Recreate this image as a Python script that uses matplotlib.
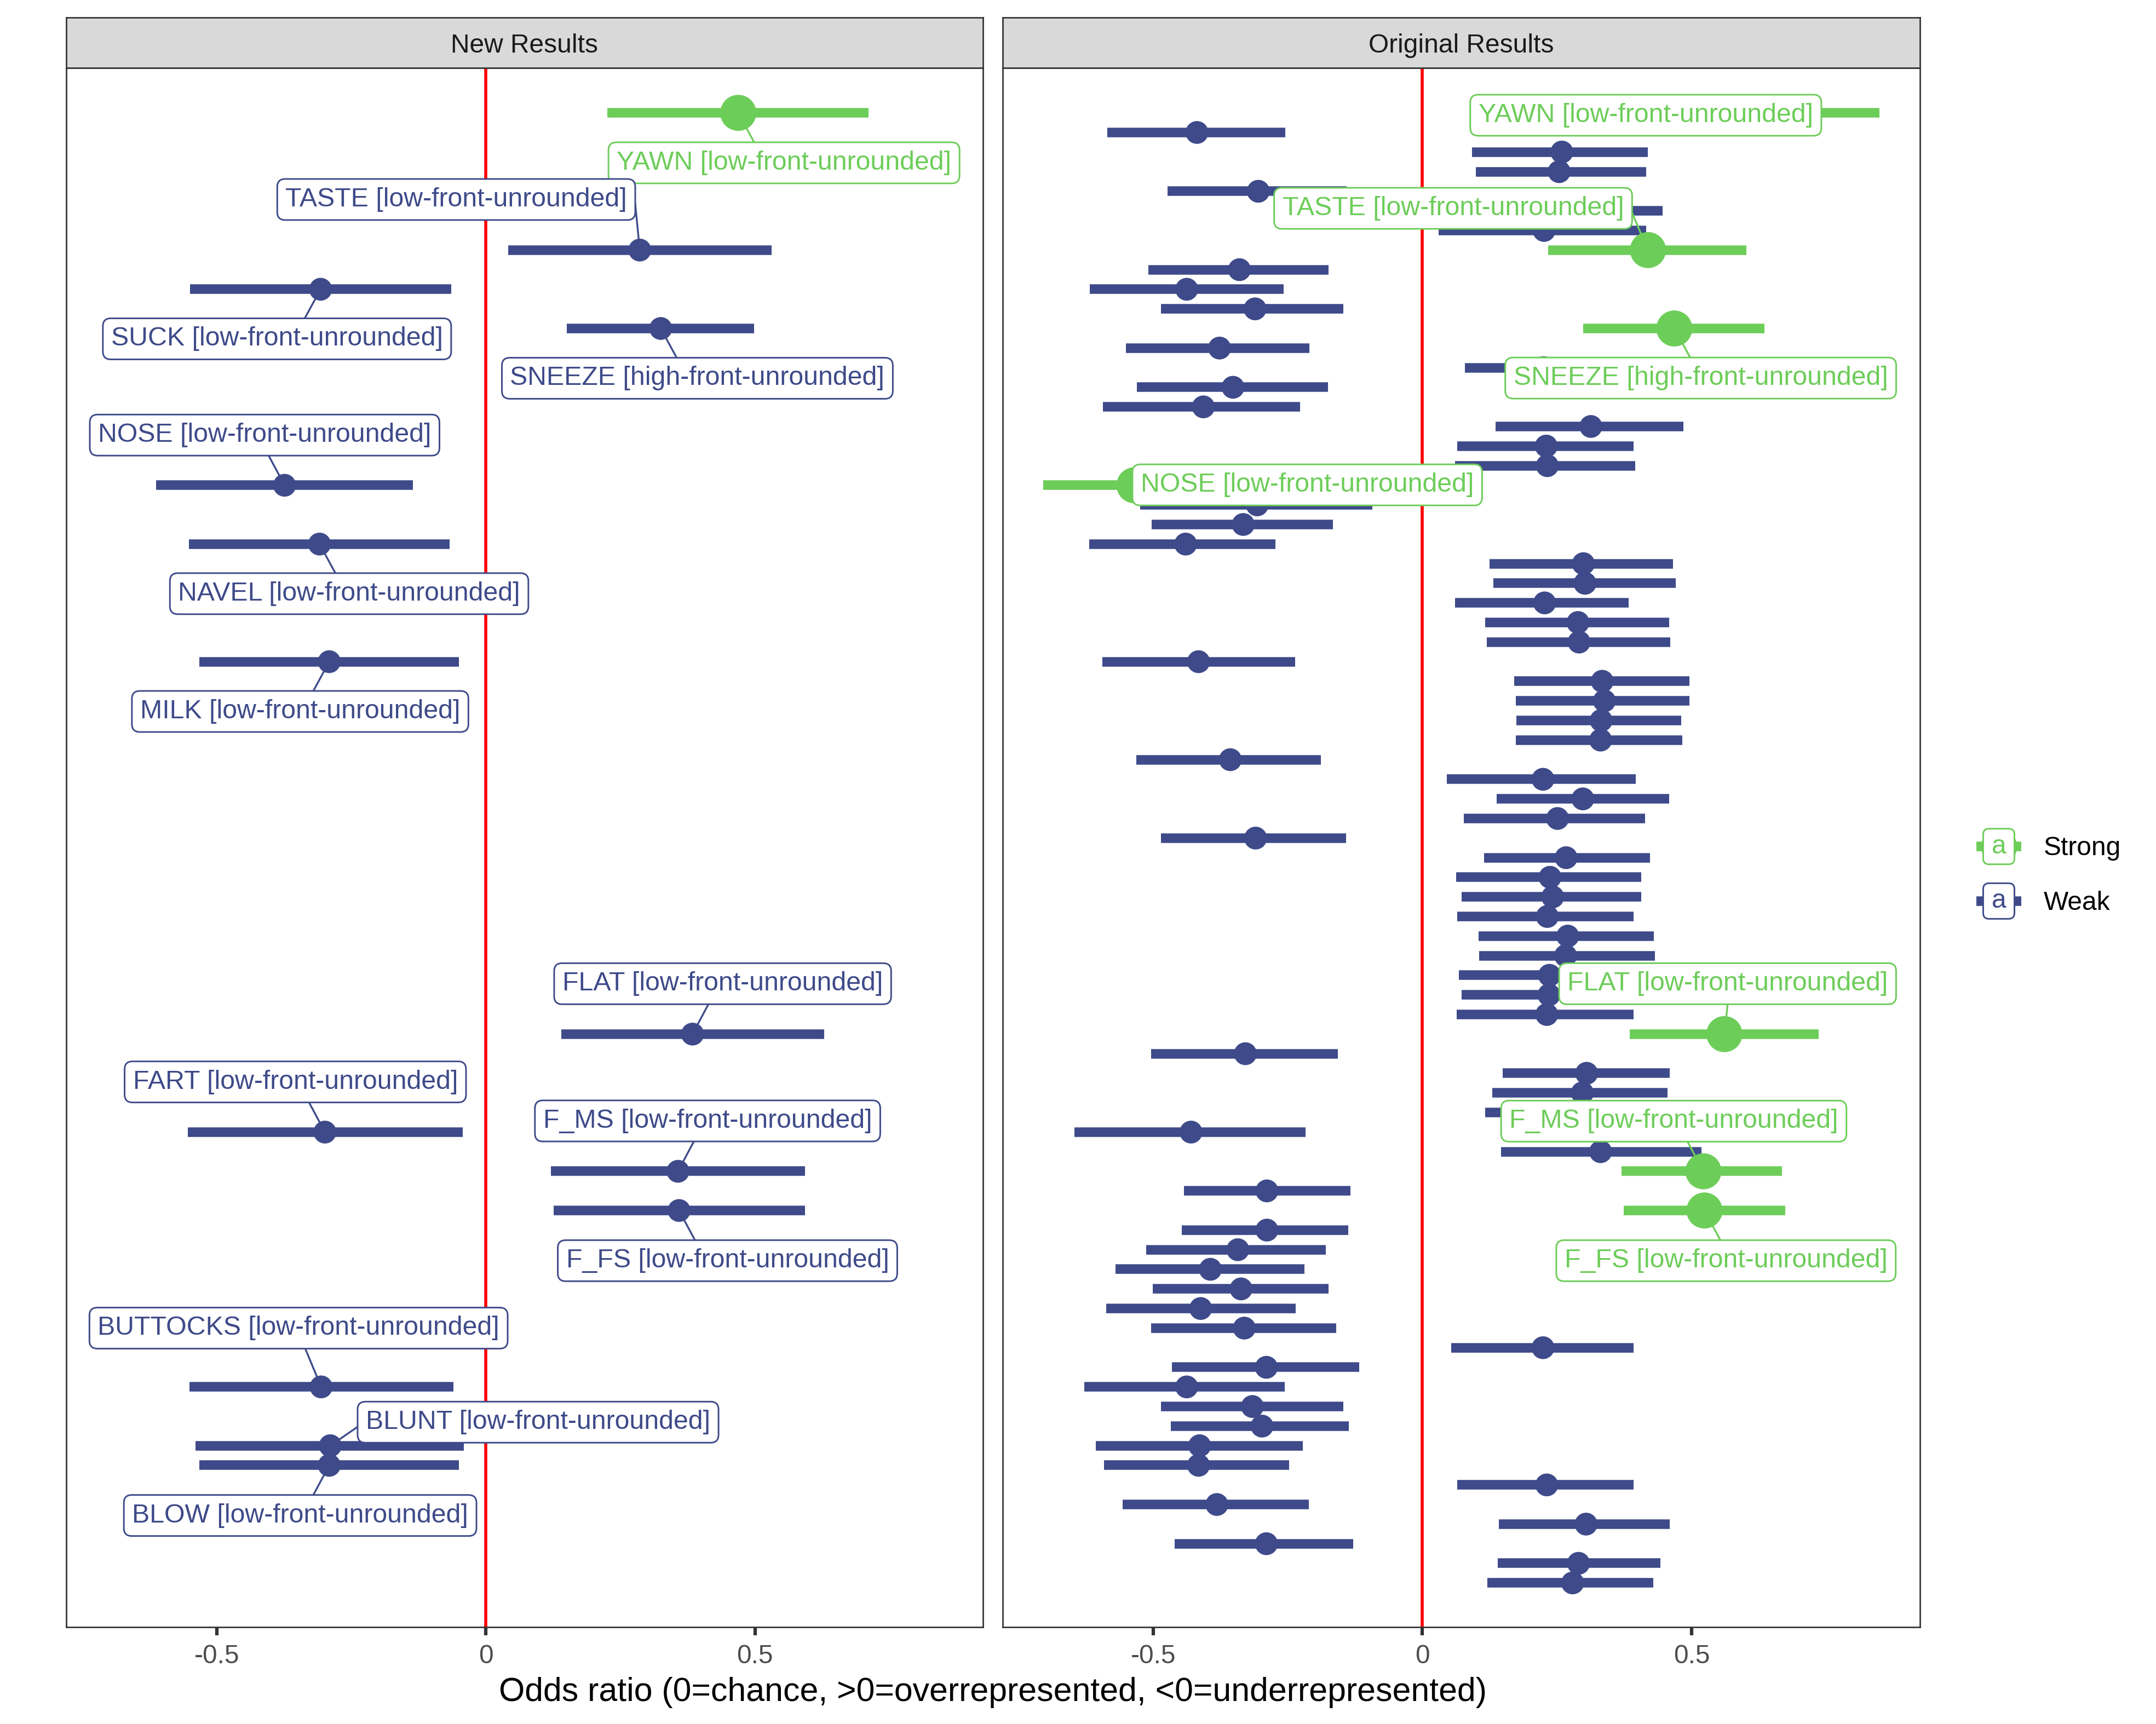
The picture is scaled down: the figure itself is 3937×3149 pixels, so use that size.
import matplotlib
matplotlib.use("Agg")
import matplotlib.pyplot as plt
from matplotlib.lines import Line2D
from matplotlib.patches import FancyBboxPatch
from matplotlib.text import Text
from matplotlib.legend_handler import HandlerBase

plt.rcParams["font.family"] = ["Liberation Sans", "DejaVu Sans"]
plt.rcParams["axes.unicode_minus"] = False

# ---- data (rows listed top to bottom; y axis = words, shared by both facets) ----
orig_word = ["YAWN", "", "", "", "", "", "", "TASTE", "", "SUCK",
             "", "SNEEZE", "", "", "", "", "", "", "", "NOSE",
             "", "", "NAVEL", "", "", "", "", "", "MILK", "",
             "", "", "", "", "", "", "", "", "", "",
             "", "", "", "", "", "", "", "FLAT", "", "",
             "", "", "FART", "", "F_MS", "", "F_FS", "", "", "",
             "", "", "", "", "", "BUTTOCKS", "", "", "BLUNT", "BLOW",
             "", "", "", "", "", ""]
orig_lo = [0.44, -0.586, 0.092, 0.099, -0.474, 0.12, 0.030, 0.234, -0.509, -0.618,
           -0.486, 0.299, -0.551, 0.079, -0.531, -0.594, 0.136, 0.065, 0.061, -0.705,
           -0.525, -0.503, -0.619, 0.125, 0.132, 0.061, 0.117, 0.120, -0.595, 0.170,
           0.173, 0.175, 0.173, -0.532, 0.045, 0.138, 0.077, -0.486, 0.114, 0.063,
           0.073, 0.065, 0.104, 0.105, 0.068, 0.073, 0.064, 0.385, -0.504, 0.149,
           0.130, 0.117, -0.647, 0.146, 0.370, -0.443, 0.374, -0.447, -0.513, -0.570,
           -0.501, -0.588, -0.504, 0.053, -0.466, -0.628, -0.486, -0.468, -0.607, -0.592,
           0.065, -0.557, 0.142, -0.460, 0.140, 0.121]
orig_est = [0.63, -0.419, 0.259, 0.254, -0.305, 0.28, 0.226, 0.419, -0.340, -0.438,
            -0.311, 0.468, -0.377, 0.225, -0.352, -0.407, 0.313, 0.230, 0.232, -0.535,
            -0.307, -0.333, -0.440, 0.299, 0.302, 0.227, 0.289, 0.291, -0.416, 0.334,
            0.338, 0.332, 0.331, -0.357, 0.224, 0.298, 0.251, -0.310, 0.267, 0.237,
            0.242, 0.232, 0.270, 0.266, 0.236, 0.235, 0.231, 0.561, -0.329, 0.305,
            0.297, 0.28, -0.430, 0.331, 0.522, -0.289, 0.524, -0.289, -0.343, -0.394,
            -0.337, -0.412, -0.331, 0.224, -0.290, -0.438, -0.316, -0.298, -0.414, -0.416,
            0.231, -0.382, 0.304, -0.290, 0.290, 0.279]
orig_hi = [0.849, -0.255, 0.419, 0.416, -0.141, 0.446, 0.416, 0.602, -0.174, -0.258,
           -0.147, 0.635, -0.210, 0.39, -0.175, -0.227, 0.485, 0.392, 0.395, -0.365,
           -0.093, -0.166, -0.273, 0.466, 0.471, 0.383, 0.458, 0.460, -0.237, 0.496,
           0.496, 0.481, 0.483, -0.189, 0.396, 0.458, 0.414, -0.142, 0.423, 0.407,
           0.407, 0.392, 0.430, 0.432, 0.40, 0.40, 0.392, 0.736, -0.157, 0.459,
           0.455, 0.44, -0.217, 0.518, 0.668, -0.134, 0.674, -0.138, -0.180, -0.219,
           -0.174, -0.236, -0.160, 0.392, -0.118, -0.256, -0.147, -0.137, -0.222, -0.248,
           0.392, -0.211, 0.459, -0.129, 0.442, 0.429]
orig_strong = ["YAWN", "TASTE", "SNEEZE", "NOSE", "FLAT", "F_MS", "F_FS"]

new_word = ["YAWN", "TASTE", "SUCK", "SNEEZE", "NOSE", "NAVEL", "MILK",
            "FLAT", "FART", "F_MS", "F_FS", "BUTTOCKS", "BLUNT", "BLOW"]
new_lo = [0.226, 0.042, -0.550, 0.150, -0.613, -0.552, -0.532,
          0.140, -0.554, 0.121, 0.126, -0.551, -0.539, -0.532]
new_est = [0.469, 0.286, -0.307, 0.325, -0.374, -0.309, -0.291,
           0.384, -0.299, 0.357, 0.359, -0.306, -0.289, -0.291]
new_hi = [0.711, 0.531, -0.064, 0.498, -0.136, -0.067, -0.050,
          0.629, -0.043, 0.593, 0.593, -0.060, -0.041, -0.050]
new_strength = ["Strong", "Weak", "Weak", "Weak", "Weak", "Weak", "Weak",
                "Weak", "Weak", "Weak", "Weak", "Weak", "Weak", "Weak"]
vowel = {"SNEEZE": "high-front-unrounded"}  # all others low-front-unrounded

# label placement (repelled positions, x in data units, y in rows)
new_label_xy = [(0.554, 72.45), (-0.055, 70.58), (-0.388, 63.47), (0.393, 61.46),
                (-0.411, 58.56), (-0.254, 50.47), (-0.345, 44.46), (0.440, 30.57),
                (-0.354, 25.56), (0.412, 23.57), (0.449, 16.44), (-0.348, 13.0),
                (0.097, 8.2), (-0.345, 3.44)]
orig_label_xy = [(0.415, 74.88), (0.057, 70.13), (0.517, 61.47), (-0.214, 56.02),
                 (0.567, 30.57), (0.467, 23.56), (0.564, 16.44)]

COL = {"Strong": "#6DCD59", "Weak": "#3E4A89"}
MS = {"Strong": 15.8, "Weak": 10.0}
FS = 11.5
LFS = 11.6
SEG_SHIFT = 29  # px: segment end slides this far from nearest point toward edge centre
n = len(orig_word)
row_of = {w: n - 1 - i for i, w in enumerate(orig_word) if w}

W, H = 3937, 3149
fig = plt.figure(figsize=(W / 300, H / 300), dpi=300)
px = lambda v: v / W
py = lambda v: 1 - v / H
bottom, top = py(2971.7), py(123.8)
panels = [("New Results", 120.6), ("Original Results", 1830.9)]
pw = 1674.7
labels = []  # (ax, annotation, point, colour) -> segments added after layout


def draw_label(ax, word, x, y, lx, ly, color):
    txt = f"{word} [{vowel.get(word, 'low-front-unrounded')}]"
    ann = ax.annotate(txt, xy=(x, y), xytext=(lx, ly), textcoords="data",
                      ha="center", va="center", fontsize=LFS, color=color, zorder=6,
                      bbox=dict(boxstyle="round,pad=0.31,rounding_size=0.3",
                                fc="white", ec=color, lw=0.7))
    labels.append((ax, ann, (x, y), color))


def toward(v, c, d):
    return min(v + d, c) if c > v else max(v - d, c)


axes = []
for title, left in panels:
    ax = fig.add_axes([px(left), bottom, px(pw), top - bottom])
    ax.set_xlim(-0.780, 0.924)
    ax.set_ylim(-2.246, 77.30)
    ax.axvline(0, color="red", lw=1.35, zorder=1)
    ax.set_yticks([])
    ax.set_xticks([-0.5, 0, 0.5])
    ax.set_xticklabels(["-0.5", "0", "0.5"])
    ax.tick_params(axis="x", length=3.6, width=1.5, color="#333333",
                   labelcolor="#4D4D4D", labelsize=FS, pad=3.8)
    for s in ax.spines.values():
        s.set_color("#333333")
        s.set_linewidth(0.65)
    sax = fig.add_axes([px(left), top, px(pw), py(31.7) - top])
    sax.set_facecolor("#D9D9D9")
    sax.set_xticks([])
    sax.set_yticks([])
    for s in sax.spines.values():
        s.set_color("#333333")
        s.set_linewidth(0.65)
    sax.text(0.5, 0.30, title, ha="center", va="baseline", fontsize=FS,
             color="#1A1A1A", transform=sax.transAxes)
    axes.append(ax)

# New Results
ax = axes[0]
ys = [row_of[w] for w in new_word]
cols = [COL[s] for s in new_strength]
lc = ax.hlines(ys, new_lo, new_hi, colors=cols, lw=4.2, zorder=2)
lc.set_capstyle("butt")
ax.scatter(new_est, ys, s=[MS[s] ** 2 for s in new_strength], c=cols,
           linewidths=0, zorder=3)
for w, x, y, s, (lx, ly) in zip(new_word, new_est, ys, new_strength, new_label_xy):
    draw_label(ax, w, x, y, lx, ly, COL[s])

# Original Results
ax = axes[1]
ys = [n - 1 - i for i in range(n)]
strength = ["Strong" if w in orig_strong else "Weak" for w in orig_word]
cols = [COL[s] for s in strength]
lc = ax.hlines(ys, orig_lo, orig_hi, colors=cols, lw=4.2, zorder=2)
lc.set_capstyle("butt")
ax.scatter(orig_est, ys, s=[MS[s] ** 2 for s in strength], c=cols,
           linewidths=0, zorder=3)
for w, (lx, ly) in zip(orig_strong, orig_label_xy):
    i = orig_word.index(w)
    draw_label(ax, w, orig_est[i], n - 1 - i, lx, ly, COL["Strong"])

fig.text(px(1813), py(3106.7), "Odds ratio (0=chance, >0=overrepresented, <0=underrepresented)",
         ha="center", va="baseline", fontsize=14.6, color="black")

# repel-style segments: point -> label box edge
fig.canvas.draw()
rend = fig.canvas.get_renderer()
for ax, ann, (x, y), color in labels:
    bb = ann.get_bbox_patch().get_window_extent(rend)
    X, Y = ax.transData.transform((x, y))
    if bb.x0 <= X <= bb.x1 and bb.y0 <= Y <= bb.y1:
        continue
    cx = min(max(X, bb.x0), bb.x1)
    cy = min(max(Y, bb.y0), bb.y1)
    on_side = cx in (bb.x0, bb.x1)
    if on_side:
        cy = toward(cy, (bb.y0 + bb.y1) / 2, SEG_SHIFT)
    else:
        cx = toward(cx, (bb.x0 + bb.x1) / 2, SEG_SHIFT)
    ex, ey = ax.transData.inverted().transform((cx, cy))
    ax.plot([x, ex], [y, ey], color=color, lw=0.8, zorder=4,
            scalex=False, scaley=False)


class LabelKey(HandlerBase):
    def __init__(self, color, ms):
        super().__init__()
        self.color, self.ms = color, ms

    def create_artists(self, legend, orig_handle, xdescent, ydescent,
                       width, height, fontsize, trans):
        cx = width / 2 - xdescent
        cy = height / 2 - ydescent
        line = Line2D([-xdescent, width - xdescent], [cy, cy], color=self.color,
                      lw=4.2, solid_capstyle="butt", transform=trans)
        dot = Line2D([cx], [cy], marker="o", ms=self.ms, color=self.color,
                     markeredgewidth=0, transform=trans)
        bw, bh = 13.7, 15.6
        box = FancyBboxPatch((cx - bw / 2, cy - bh / 2), bw, bh,
                             boxstyle="round,pad=0,rounding_size=2.5", fc="white",
                             ec=self.color, lw=0.7, transform=trans)
        txt = Text(cx, cy, "a", ha="center", va="center", color=self.color,
                   fontsize=FS, transform=trans)
        return [line, dot, box, txt]


handles = [Line2D([], []), Line2D([], [])]
fig.legend(handles, ["Strong", "Weak"], loc="center left",
           bbox_to_anchor=(px(3609), py(1596)), frameon=False,
           fontsize=FS, handlelength=1.71, handleheight=1.36, labelspacing=0.95,
           handletextpad=0.85, borderpad=0, borderaxespad=0,
           handler_map={handles[0]: LabelKey(COL["Strong"], MS["Strong"]),
                        handles[1]: LabelKey(COL["Weak"], MS["Weak"])})

fig.savefig("out.png", dpi=300, facecolor="white")
